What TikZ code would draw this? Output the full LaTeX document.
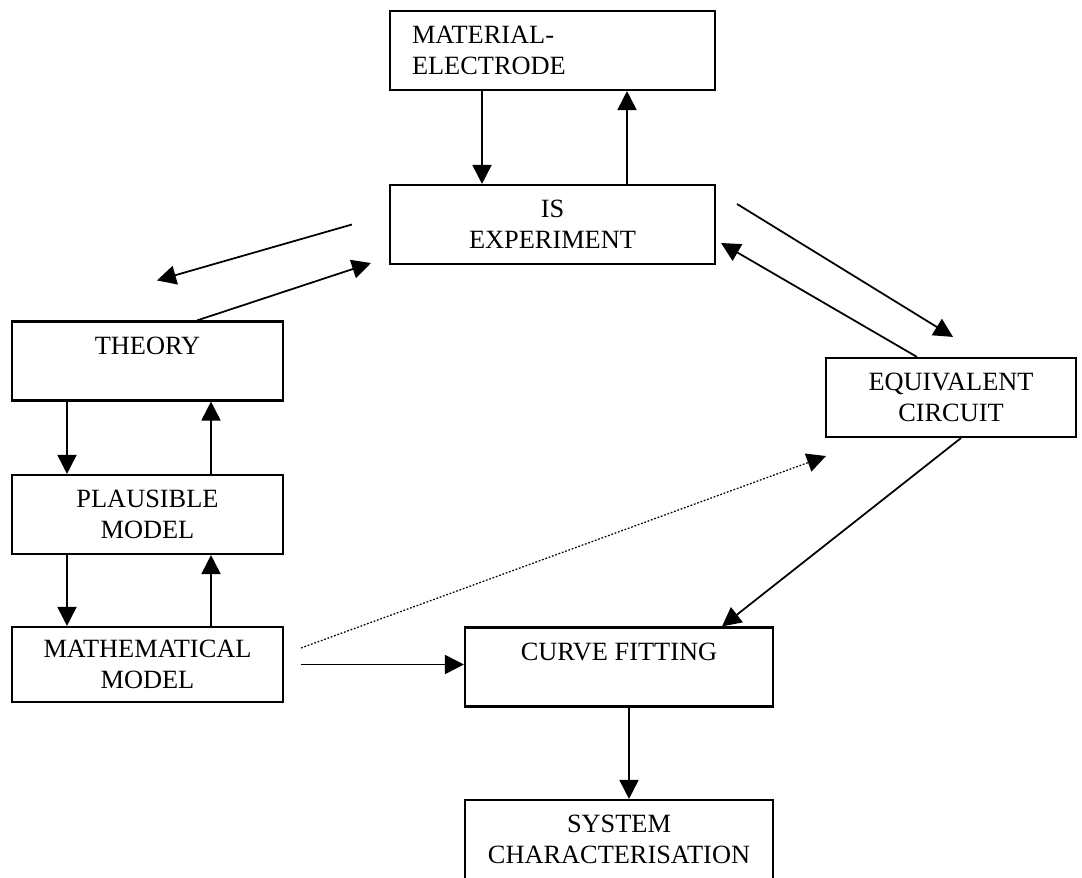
\documentclass[tikz,border=0pt]{standalone}
\usepackage{fontspec}
\setmainfont{Liberation Serif}
\usetikzlibrary{arrows.meta,positioning,calc}

\begin{document}
\begin{tikzpicture}[
font=\fontsize{15}{17.6}\selectfont,
box/.style={draw,line width=1.2pt,align=center,inner sep=0pt,minimum height=1.58cm},
arrow/.style={-{Triangle[length=3.8mm,width=3.8mm]},line width=1pt},
dotarrow/.style={arrow,densely dotted,line width=0.7pt}]
\useasboundingbox (0,0) rectangle (21.64,-17.56);
\node[box,minimum width=6.5cm,text width=5.62cm,align=left] (mat) at (11.05,-1.01) {MATERIAL-\\ELECTRODE};
\node[box,minimum width=6.5cm] (isexp) at (11.05,-4.49) {IS\\EXPERIMENT};
\node[box,minimum width=5.42cm] (theory) at (2.95,-7.22) {THEORY\\~};
\node[box,minimum width=5.42cm] (plaus) at (2.95,-10.29) {PLAUSIBLE\\MODEL};
\node[box,minimum width=5.42cm,minimum height=1.5cm] (mathm) at (2.95,-13.29) {MATHEMATICAL\\MODEL};
\node[box,minimum width=5cm] (equiv) at (19.02,-7.95) {EQUIVALENT\\CIRCUIT};
\node[box,minimum width=6.16cm] (curve) at (12.38,-13.34) {CURVE FITTING\\~};
\node[box,minimum width=6.16cm] (sysc) at (12.38,-16.79) {SYSTEM\\CHARACTERISATION};
\draw[arrow] ([xshift=-1.41cm]mat.south)--([xshift=-1.41cm]isexp.north);\draw[arrow] ([xshift=1.49cm]isexp.north)--([xshift=1.49cm]mat.south);
\draw[arrow] ([xshift=-0.74cm]isexp.west)--([shift={(0.19,0.8)}]theory.north);\draw[arrow] ([xshift=0.99cm]theory.north)--([shift={(-0.36,0.04)}]isexp.south west);
\draw[arrow] ([shift={(0.42,0.41)}]isexp.east)--([shift={(0.04,0.4)}]equiv.north);\draw[arrow] ([xshift=-0.68cm]equiv.north)--([shift={(0.1,-0.37)}]isexp.east);
\draw[arrow] ([xshift=-1.61cm]theory.south)--([xshift=-1.61cm]plaus.north);\draw[arrow] ([xshift=1.27cm]plaus.north)--([xshift=1.27cm]theory.south);
\draw[arrow] ([xshift=-1.61cm]plaus.south)--([xshift=-1.61cm]mathm.north);\draw[arrow] ([xshift=1.27cm]mathm.north)--([xshift=1.27cm]plaus.south);
\draw[arrow] ([xshift=0.34cm]mathm.east)--(mathm.east-|curve.west);
\draw[dotarrow] ([shift={(0.34,0.33)}]mathm.east)--([shift={(0.02,-0.36)}]equiv.south west);
\draw[arrow] ([xshift=0.2cm]equiv.south)--([xshift=2.06cm]curve.north);\draw[arrow] ([xshift=0.2cm]curve.south)--([xshift=0.2cm]sysc.north);
\end{tikzpicture}
\end{document}
